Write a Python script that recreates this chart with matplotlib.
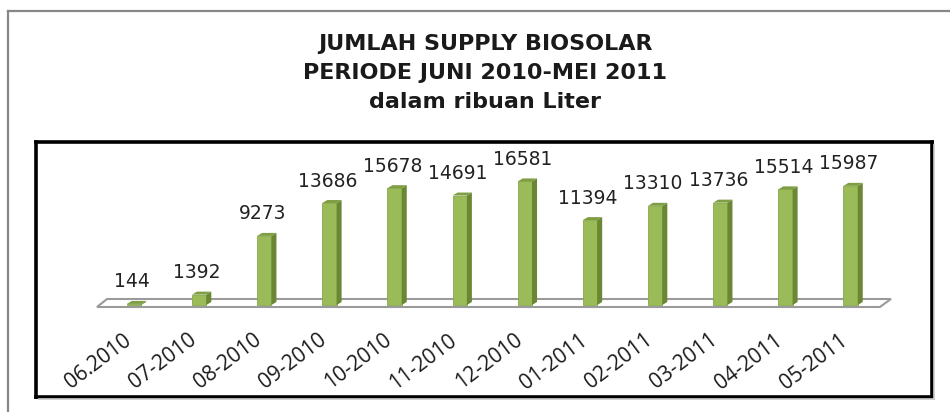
import matplotlib
matplotlib.use("Agg")
import matplotlib.pyplot as plt
import numpy as np
from matplotlib.patches import Polygon
from matplotlib.lines import Line2D
from matplotlib import transforms

# datos del grafico
bulan = ['06.2010', '07-2010', '08-2010', '09-2010', '10-2010', '11-2010',
         '12-2010', '01-2011', '02-2011', '03-2011', '04-2011', '05-2011']
supply = [144, 1392, 9273, 13686, 15678, 14691, 16581, 11394, 13310, 13736, 15514, 15987]
judul = ['JUMLAH SUPPLY BIOSOLAR', 'PERIODE JUNI 2010-MEI 2011', 'dalam ribuan Liter']

W, H = 950, 412
fig = plt.figure(figsize=(W / 100, H / 100), dpi=100)

def fx(px):  # pixel -> fraccion de figura
    return px / W

def fy(py):
    return 1 - py / H

# marco gris exterior
fig.add_artist(Line2D([fx(8), 1.0], [fy(11), fy(11)], color='#878787', lw=1.6))
fig.add_artist(Line2D([fx(8), fx(8)], [fy(11), 0.0], color='#878787', lw=1.6))

# titulo
for k, t in enumerate(judul):
    fig.text(fx(485), fy(44 + 29 * k), t, ha='center', va='center',
             fontsize=16, fontweight='bold', family='DejaVu Sans', color='#1a1a1a')

# caja negra = ejes
ax = fig.add_axes([fx(36), fy(397), fx(932) - fx(36), fy(142) - fy(397)])
ax.set_xlim(-1.504, 12.25)
ax.set_ylim(-12346, 21875)
ax.set_xticks([])
ax.set_yticks([])
for s in ax.spines.values():
    s.set_linewidth(2.6)
    s.set_color('black')
    s.set_zorder(6)

# sombra suave de la caja
fig.add_artist(Line2D([fx(934), fx(934)], [fy(145), fy(399)], color='#c8c8c8', lw=1.2))
fig.add_artist(Line2D([fx(39), fx(934)], [fy(399), fy(399)], color='#c8c8c8', lw=1.2))

x = np.arange(len(bulan))
w = 0.22       # ancho de la cara frontal
dx = 0.077     # profundidad 3D en x
dy = 403       # profundidad 3D en y

# piso
fl, fr = -0.568, 11.45
ax.add_patch(Polygon([(fl, -268), (fr, -268), (fr + 0.17, 805), (fl + 0.154, 805)],
                     closed=True, facecolor='white', edgecolor='#9a9a9a', lw=1.5, zorder=1))

# barras
ax.bar(x, supply, width=w, color='#9BBB59', edgecolor='#86a84a', lw=0.6, zorder=3)
for xi, v in zip(x, supply):
    r = xi + w / 2
    l = xi - w / 2
    ax.add_patch(Polygon([(r, 0), (r + dx, dy), (r + dx, v + dy), (r, v)],
                         closed=True, facecolor='#6A8734', edgecolor='none', zorder=3))
    ax.add_patch(Polygon([(l, v), (r, v), (r + dx, v + dy), (l + dx, v + dy)],
                         closed=True, facecolor='#7f9e44', edgecolor='none', zorder=3))
    ax.annotate(str(v), (xi, v), xytext=(-2, 22), textcoords='offset pixels',
                ha='center', va='center', fontsize=13.5, color='#222222', zorder=4)

# etiquetas del eje x
trans = transforms.blended_transform_factory(ax.transData, ax.transAxes)
off = transforms.ScaledTranslation(-5 / 100, 0, fig.dpi_scale_trans)
for xi, lab in zip(x, bulan):
    ax.text(xi, (397 - 338) / 255, lab, transform=trans + off, rotation=37,
            rotation_mode='anchor', ha='right', va='center', fontsize=15,
            family='Open Sans', color='#1a1a1a')

fig.savefig('out.png', dpi=100)
